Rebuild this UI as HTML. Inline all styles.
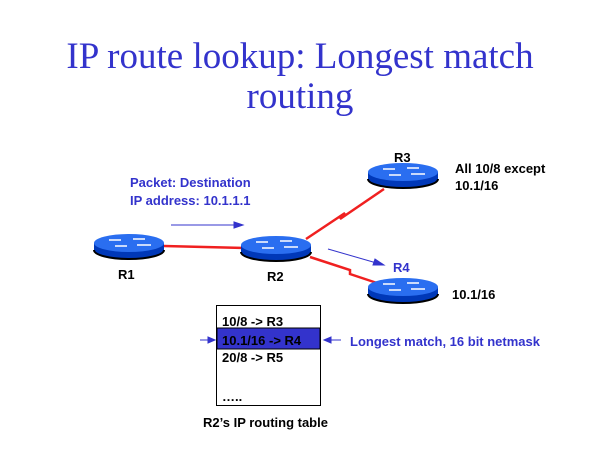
<!DOCTYPE html>
<html><head><style>
body{margin:0;background:#fff;width:600px;height:450px;overflow:hidden}
</style></head><body>
<svg width="600" height="450" xmlns="http://www.w3.org/2000/svg">
<defs>
<g id="rt">
<path d="M-35,0 L-35,7 A35,9 0 0 0 35,7 L35,0 Z" fill="#0038b8"/>
<path d="M-35,7 A35,9 0 0 0 35,7" fill="none" stroke="#000" stroke-width="2"/>
<ellipse cx="0" cy="0" rx="35" ry="9" fill="#2a6ef0"/>
<g stroke="#fff" stroke-width="1.5">
<line x1="-20" y1="-3" x2="-8" y2="-3"/><line x1="4" y1="-4" x2="16" y2="-4"/>
<line x1="-14" y1="3" x2="-2" y2="3"/><line x1="8" y1="2" x2="22" y2="2"/>
</g>
</g>
</defs>
<text x="300" y="68" font-family="Liberation Serif" font-size="37" fill="#3333cc" text-anchor="middle">IP route lookup: Longest match</text>
<text x="300" y="108" font-family="Liberation Serif" font-size="37" fill="#3333cc" text-anchor="middle">routing</text>
<g stroke="#f02020" stroke-width="2.5" fill="none">
<polyline points="164,246 245,248"/>
<polyline points="306,239 345,213 340,219 384,189"/>
<polyline points="310,257 350,270 350,274 377,283"/>
</g>
<g stroke="#3333cc" stroke-width="1" fill="#3333cc">
<line x1="171" y1="225" x2="240" y2="225"/><polygon points="243,225 234,222 234,228"/>
<line x1="328" y1="249" x2="380" y2="264"/><polygon points="384,265 375,259 373,265"/>
</g>
<use href="#rt" x="129" y="243"/>
<use href="#rt" x="276" y="245"/>
<use href="#rt" x="403" y="172"/>
<use href="#rt" x="403" y="287"/>
<g font-family="Liberation Sans" font-weight="bold" font-size="13">
<text x="130" y="187" fill="#3333cc">Packet: Destination</text>
<text x="130" y="205" fill="#3333cc">IP address: 10.1.1.1</text>
<text x="118" y="279">R1</text>
<text x="267" y="281">R2</text>
<text x="394" y="162">R3</text>
<text x="393" y="272" fill="#3333cc">R4</text>
<text x="455" y="173">All 10/8 except</text>
<text x="455" y="190">10.1/16</text>
<text x="452" y="299">10.1/16</text>
<rect x="216.5" y="305.5" width="104" height="100" fill="#fff" stroke="#000"/>
<rect x="217" y="328" width="103" height="21" fill="#3333cc" stroke="#000"/>
<text x="222" y="326">10/8 -&gt; R3</text>
<text x="222" y="345">10.1/16 -&gt; R4</text>
<text x="222" y="362">20/8 -&gt; R5</text>
<text x="222" y="401">…..</text>
<text x="203" y="427">R2’s IP routing table</text>
<text x="350" y="346" fill="#3333cc">Longest match, 16 bit netmask</text>
</g>
<g stroke="#3333cc" fill="#3333cc">
<line x1="200" y1="340" x2="212" y2="340"/><polygon points="215,340 208,337 208,343"/>
<line x1="327" y1="340" x2="341" y2="340"/><polygon points="324,340 331,337 331,343"/>
</g>
</svg>
</body></html>
